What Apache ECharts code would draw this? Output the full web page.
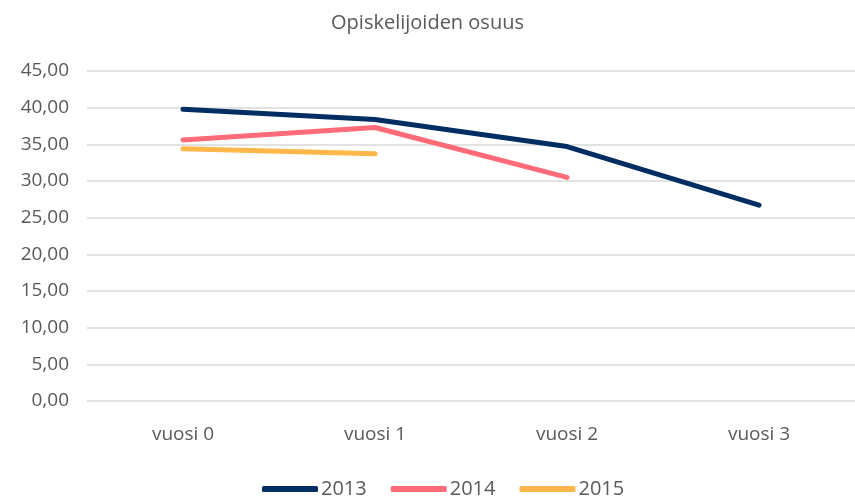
<!DOCTYPE html>
<html>
<head>
<meta charset="utf-8">
<script src="https://cdn.jsdelivr.net/npm/echarts@6/dist/echarts.min.js"></script>
<style>
  html, body { margin: 0; padding: 0; background: #fff; }
  #chart { width: 855px; height: 499px; }
</style>
</head>
<body>
<div id="chart"></div>
<script>
// data
const categories = ['vuosi 0', 'vuosi 1', 'vuosi 2', 'vuosi 3'];
const years = ['2013', '2014', '2015'];
const values2013 = [39.8, 38.4, 34.7, 26.7];
const values2014 = [35.6, 37.3, 30.5, null];
const values2015 = [34.4, 33.7, null, null];
const colors = ['#002E62', '#FF6B78', '#FFB74A'];

const font = '"Open Sans", sans-serif';
const textColor = '#595959';

const chart = echarts.init(document.getElementById('chart'));

const makeSeries = (name, data, color) => ({
    name: name,
    type: 'line',
    data: data,
    symbol: 'none',
    connectNulls: false,
    lineStyle: { color: color, width: 5, cap: 'round', join: 'round' },
    itemStyle: { color: color }
});

chart.setOption({
    animation: false,
    title: {
        text: 'Opiskelijoiden osuus',
        left: 'center',
        top: 8,
        textStyle: { fontFamily: font, fontSize: 20, fontWeight: 'normal', color: textColor }
    },
    legend: {
        bottom: 0,
        left: 262,
        padding: 0,
        itemWidth: 56,
        itemHeight: 6,
        itemGap: 24,
        icon: 'roundRect',
        textStyle: { fontFamily: font, fontSize: 20, color: textColor, padding: [0, 0, 0, -2] },
        data: years
    },
    grid: { left: 87, right: -6, top: 71, bottom: 98 },
    xAxis: {
        type: 'category',
        data: categories,
        axisLine: { show: false },
        axisTick: { show: false },
        axisLabel: { fontFamily: font, fontSize: 19, color: textColor, margin: 24 }
    },
    yAxis: {
        type: 'value',
        min: 0,
        max: 45,
        interval: 5,
        axisLine: { show: false },
        axisTick: { show: false },
        splitLine: { lineStyle: { color: '#D9D9D9', width: 1.5 } },
        axisLabel: {
            fontFamily: font, fontSize: 19, color: textColor, margin: 18,
            formatter: v => v.toFixed(2).replace('.', ',')
        }
    },
    series: [
        makeSeries(years[0], values2013, colors[0]),
        makeSeries(years[1], values2014, colors[1]),
        makeSeries(years[2], values2015, colors[2])
    ]
});
</script>
</body>
</html>
